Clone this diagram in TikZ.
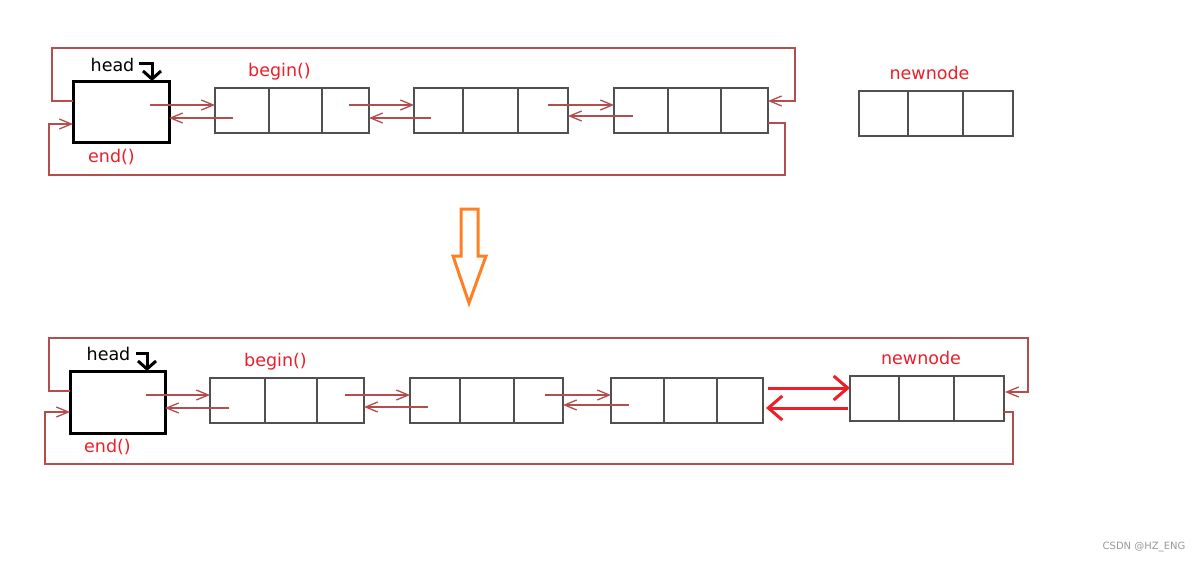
\documentclass[tikz,border=0pt]{standalone}
\usepackage{fontspec}
\setmainfont{DejaVu Sans}
\usetikzlibrary{arrows.meta,calc}
\definecolor{linkc}{RGB}{178,78,78}
\definecolor{boxc}{RGB}{80,80,80}
\definecolor{txtred}{RGB}{236,30,40}
\definecolor{orng}{RGB}{255,128,36}
\newcommand{\cellrow}[6]{%
  \node[cellbox, minimum width={(#3-#2)*1pt}] (#1a) at ({(#2+#3)/2},#6) {};
  \node[cellbox, minimum width={(#4-#3)*1pt}] (#1b) at ({(#3+#4)/2},#6) {};
  \node[cellbox, minimum width={(#5-#4)*1pt}] (#1c) at ({(#4+#5)/2},#6) {};
}
\begin{document}
\begin{tikzpicture}[x=1pt,y=-1pt,
  cellbox/.style={draw=boxc, line width=2pt, minimum height=45pt, inner sep=0pt, outer sep=0pt},
  headbox/.style={draw=black, line width=3pt, inner sep=0pt, outer sep=0pt},
  link/.style={draw=linkc, line width=1.3pt, -{Straight Barb[length=12pt,width=10pt]}},
  redlink/.style={draw=txtred, line width=3pt, -{Straight Barb[length=14pt,width=24pt]}},
  headarrow/.style={draw=black, line width=3pt, -{Straight Barb[length=8pt,width=18pt]}},
  lbl/.style={text=txtred, font=\fontsize{17.5}{20}\selectfont, inner sep=0pt, anchor=base},
  blbl/.style={text=black, font=\fontsize{17.5}{20}\selectfont, inner sep=0pt, anchor=base},
]
\path[fill=white,use as bounding box] (0,0) rectangle (1203,560);

% ---------- top diagram ----------
\node[headbox, minimum width=96pt, minimum height=61pt] (h1) at (121,111.5) {};
\cellrow{t1}{215}{269}{322}{369}{110.5}
\cellrow{t2}{414}{463}{518}{568}{110.5}
\cellrow{t3}{614}{668}{721}{768}{110.5}
\cellrow{tn}{859}{908}{963}{1013}{113.5}

\node[blbl] (hl1) at (112.5,71) {head};
\node[lbl] (bg1) at (279.5,76) {begin()};
\node[lbl] (en1) at (111.5,162) {end()};
\node[lbl] (nn1) at (929.5,79) {newnode};

\draw[headarrow] (139,63) coordinate (ha1) -- (152,63) -- (h1.north -| 152,0);

\draw[link] (150,105) coordinate (s1) -- (t1a.west |- s1);
\draw[link] (233,118) coordinate (s2) -- (h1.east |- s2);
\draw[link] (349,105) coordinate (s3) -- (t2a.west |- s3);
\draw[link] (431,118) coordinate (s4) -- (t1c.east |- s4);
\draw[link] (548,105) coordinate (s5) -- (t3a.west |- s5);
\draw[link] (633,116) coordinate (s6) -- (t2c.east |- s6);
\draw[link] (h1.west |- 0,101) -- (52,101) -- (52,48) -- (795,48) -- (795,101) -- (t3c.east |- 0,101);
\draw[link] (t3c.east |- 0,123) -- (785,123) -- (785,175) -- (49,175) -- (49,124) -- (h1.west |- 0,124);

% ---------- transition arrow ----------
\draw[orng, line width=3pt, line join=miter] (461,209) -- (478,209) -- (478,256) -- (486,256) -- (469,303) -- (453,256) -- (461,256) -- cycle;

% ---------- bottom diagram ----------
\node[headbox, minimum width=95pt, minimum height=62pt] (h2) at (117.5,402) {};
\cellrow{b1}{210}{265}{317}{364}{400.5}
\cellrow{b2}{410}{460}{514}{563}{400.5}
\cellrow{b3}{611}{664}{717}{763}{400.5}
\cellrow{bn}{850}{899}{954}{1004}{398}

\node[blbl] (hl2) at (108.5,360) {head};
\node[lbl] (bg2) at (275.5,366) {begin()};
\node[lbl] (en2) at (107.5,452) {end()};
\node[lbl] (nn2) at (921,364) {newnode};

\draw[headarrow] (136,353) coordinate (ha2) -- (147,353) -- (h2.north -| 147,0);

\draw[link] (146,395) coordinate (u1) -- (b1a.west |- u1);
\draw[link] (229,408) coordinate (u2) -- (h2.east |- u2);
\draw[link] (345,395) coordinate (u3) -- (b2a.west |- u3);
\draw[link] (428,407) coordinate (u4) -- (b1c.east |- u4);
\draw[link] (545,395) coordinate (u5) -- (b3a.west |- u5);
\draw[link] (629,405) coordinate (u6) -- (b2c.east |- u6);
\draw[redlink] (768,388) coordinate (r1) -- (bna.west |- r1);
\draw[redlink] (848,408) coordinate (r2) -- ([xshift=3pt]b3c.east |- r2);
\draw[link] (h2.west |- 0,391) -- (49,391) -- (49,338) -- (1028,338) -- (1028,392) -- ([xshift=1pt]bnc.east |- 0,392);
\draw[link] (bnc.east |- 0,412) -- (1013,412) -- (1013,464) -- (45,464) -- (45,412) -- (h2.west |- 0,412);

% watermark
\node[text=black!40, font=\fontsize{10}{12}\selectfont, inner sep=0pt, anchor=base] (wm) at (1144,549) {CSDN @HZ\_ENG};
\end{tikzpicture}
\end{document}
